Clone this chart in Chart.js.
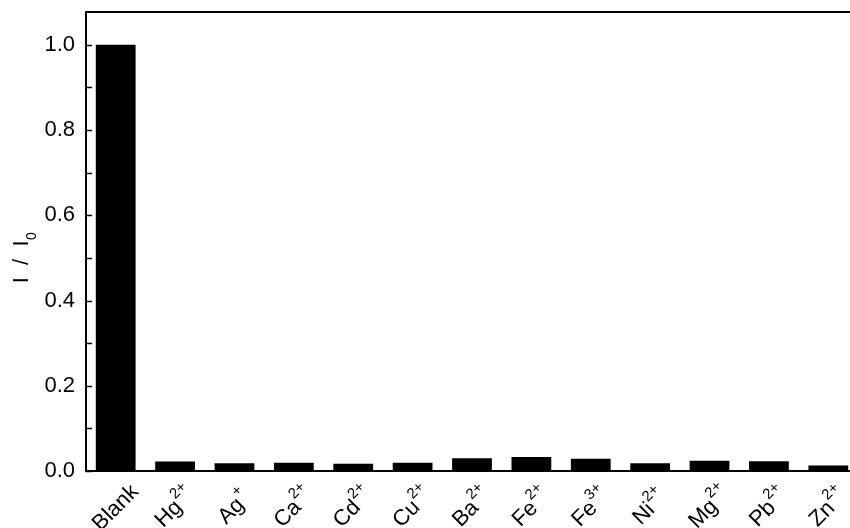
<!DOCTYPE html>
<html>
<head>
<meta charset="utf-8">
<script src="https://cdn.jsdelivr.net/npm/chart.js@4.4.1/dist/chart.umd.min.js"></script>
<style>
  html, body { margin: 0; padding: 0; background: #fff; overflow: hidden; }
  #wrap { width: 870px; height: 528px; }
</style>
</head>
<body>
<div id="wrap"><canvas id="c" width="870" height="528"></canvas></div>
<script>
const ionNames = ['Blank', 'Hg', 'Ag', 'Ca', 'Cd', 'Cu', 'Ba', 'Fe', 'Fe', 'Ni', 'Mg', 'Pb', 'Zn'];
const ionCharges = ['', '2+', '+', '2+', '2+', '2+', '2+', '2+', '3+', '2+', '2+', '2+', '2+'];
const ratioValues = [1.0, 0.022, 0.018, 0.0195, 0.017, 0.0195, 0.030, 0.033, 0.029, 0.018, 0.024, 0.023, 0.013];
const yTickValues = [0, 0.2, 0.4, 0.6, 0.8, 1.0];
const yTickLabels = ['0.0', '0.2', '0.4', '0.6', '0.8', '1.0'];
const yMinorValues = [0.1, 0.3, 0.5, 0.7, 0.9];
const yTitleMain = 'I  /  I';
const yTitleSub = '0';

const categories = ionNames.map((n, i) => n + ionCharges[i]);
const FONT = '"Liberation Sans", Arial, Helvetica, sans-serif';

const framePlugin = {
  id: 'frame',
  afterDraw(chart) {
    const ctx = chart.ctx;
    const a = chart.chartArea;
    const ys = chart.scales.y;
    const xs = chart.scales.x;
    ctx.save();
    ctx.strokeStyle = '#000';
    ctx.lineWidth = 2;
    ctx.beginPath();
    ctx.moveTo(a.left, a.top);
    ctx.lineTo(a.right, a.top);
    ctx.lineTo(a.right, a.bottom);
    ctx.lineTo(a.left, a.bottom);
    ctx.closePath();
    ctx.stroke();
    // inward ticks on the y axis
    ctx.lineWidth = 1.5;
    ctx.beginPath();
    yTickValues.concat(yMinorValues).forEach(v => {
      const y = Math.round(ys.getPixelForValue(v)) + 0.5;
      ctx.moveTo(a.left, y);
      ctx.lineTo(a.left + 6, y);
    });
    ctx.stroke();

    // x labels with superscript charges, rotated 45 degrees
    ctx.fillStyle = '#000';
    ctx.textBaseline = 'middle';
    ctx.textAlign = 'left';
    ionNames.forEach((name, i) => {
      const x = xs.getPixelForValue(i);
      const y = 508;
      ctx.save();
      ctx.translate(x, y);
      ctx.rotate(-Math.PI / 4);
      ctx.font = '22px ' + FONT;
      const wb = ctx.measureText(name).width;
      ctx.font = '15px ' + FONT;
      const ws = ionCharges[i] ? ctx.measureText(ionCharges[i]).width : 0;
      const start = -(wb + ws) / 2;
      ctx.font = '22px ' + FONT;
      ctx.fillText(name, start, 0);
      if (ionCharges[i]) {
        ctx.font = '15px ' + FONT;
        ctx.fillText(ionCharges[i], start + wb + 0.5, -10);
      }
      ctx.restore();
    });

    // y axis title with subscript
    ctx.save();
    ctx.translate(28, 258);
    ctx.rotate(-Math.PI / 2);
    ctx.textBaseline = 'alphabetic';
    ctx.font = '22px ' + FONT;
    const wm = ctx.measureText(yTitleMain).width;
    ctx.font = '14px ' + FONT;
    const wsub = ctx.measureText(yTitleSub).width;
    const s = -(wm + wsub) / 2;
    ctx.font = '22px ' + FONT;
    ctx.fillText(yTitleMain, s, 0);
    ctx.font = '14px ' + FONT;
    ctx.fillText(yTitleSub, s + wm + 0.5, 8);
    ctx.restore();

    ctx.restore();
  }
};

new Chart(document.getElementById('c'), {
  type: 'bar',
  data: {
    labels: categories,
    datasets: [{
      data: ratioValues,
      backgroundColor: '#000',
      borderWidth: 0,
      barPercentage: 0.67,
      categoryPercentage: 1.0
    }]
  },
  options: {
    responsive: false,
    animation: false,
    devicePixelRatio: 1,
    layout: { padding: { left: 0, top: 12, right: 12, bottom: 0 } },
    plugins: {
      legend: { display: false },
      tooltip: { enabled: false },
      title: { display: false }
    },
    scales: {
      x: {
        type: 'category',
        offset: true,
        grid: { display: false },
        border: { display: false },
        ticks: { display: false },
        afterFit(scale) { scale.height = 57; scale.paddingLeft = 0; scale.paddingRight = 0; }
      },
      y: {
        min: 0,
        max: 1.077,
        grid: { display: false, drawTicks: false },
        border: { display: false },
        afterBuildTicks(scale) {
          scale.ticks = yTickValues.map(v => ({ value: v }));
        },
        ticks: {
          padding: 11,
          color: '#000',
          font: { family: FONT, size: 22 },
          callback(value) {
            const i = yTickValues.findIndex(v => Math.abs(v - value) < 1e-9);
            return i >= 0 ? yTickLabels[i] : '';
          }
        },
        afterFit(scale) { scale.width = 86; scale.paddingTop = 0; scale.paddingBottom = 0; }
      }
    }
  },
  plugins: [framePlugin]
});
</script>
</body>
</html>
